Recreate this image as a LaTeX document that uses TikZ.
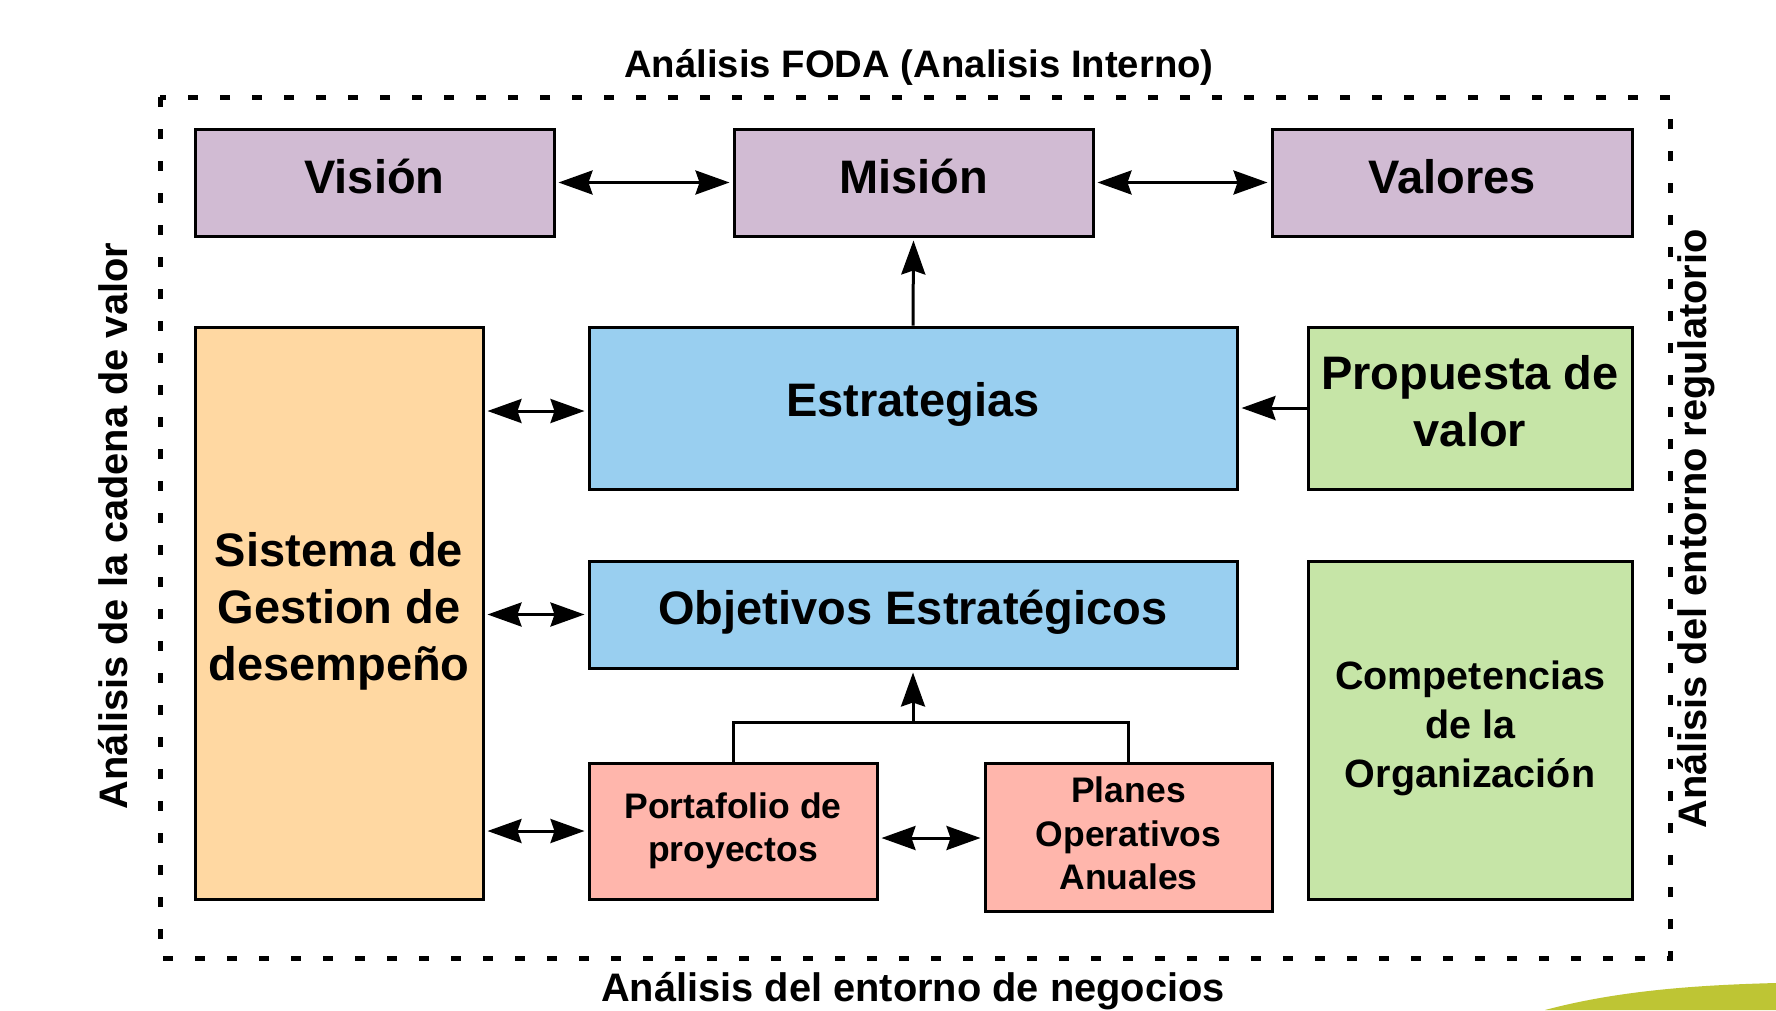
\documentclass[tikz,border=0pt]{standalone}
\usepackage{fontspec}
\setmainfont{Liberation Sans}
\usetikzlibrary{arrows.meta}
\definecolor{cpurple}{RGB}{209,187,211}
\definecolor{cblue}{RGB}{153,207,240}
\definecolor{corange}{RGB}{255,216,162}
\definecolor{cgreen}{RGB}{198,229,167}
\definecolor{cpink}{RGB}{255,182,172}
\definecolor{cswoosh}{RGB}{190,197,52}
\tikzset{
  box/.style={draw=black, line width=3pt, inner sep=0pt},
  bigtxt/.style={font=\fontsize{47}{57}\selectfont\bfseries, align=center, inner sep=0pt},
  midtxt/.style={font=\fontsize{39.5}{49}\selectfont\bfseries, align=center, inner sep=0pt},
  smalltxt/.style={font=\fontsize{35.5}{43.5}\selectfont\bfseries, align=center, inner sep=0pt},
  lbl/.style={font=\fontsize{39.8}{46}\selectfont\bfseries, inner sep=0pt},
  tip/.tip={Stealth[length=34pt,width=24pt,inset=4pt]},
  conn/.style={line width=3pt, shorten <=3pt, shorten >=3pt},
  frame/.style={line width=5pt, dash pattern=on 10pt off 22pt}
}
\begin{document}
\begin{tikzpicture}[x=1pt,y=-1pt]
\useasboundingbox (0,0) rectangle (1776,1010);
\fill[white] (0,0) rectangle (1776,1010);
\fill[cswoosh] (1545,1010) .. controls (1620,990) and (1700,985) .. (1776,983) -- (1776,1010) -- cycle;

\draw[frame] (160,97) rectangle (1670,958);

\node[lbl, font=\fontsize{38.3}{46}\selectfont\bfseries] (tt) at (919,67.5) {Análisis FODA (Analisis Interno)};
\node[lbl] (tb) at (913,991.5) {Análisis del entorno de negocios};
\node[lbl, rotate=90] (tl) at (113,526) {Análisis de la cadena de valor};
\node[lbl, rotate=90] (tr) at (1696,529) {Análisis del entorno regulatorio};

\node[box, fill=cpurple, minimum width=359pt, minimum height=107pt] (vis) at (374.5,182.5) {};
\node[box, fill=cpurple, minimum width=359pt, minimum height=107pt] (mis) at (913.5,182.5) {};
\node[box, fill=cpurple, minimum width=360pt, minimum height=107pt] (val) at (1452,182.5) {};
\node[box, fill=cblue, minimum width=648pt, minimum height=162pt] (est) at (913,408) {};
\node[box, fill=cgreen, minimum width=324pt, minimum height=162pt] (pro) at (1470,408) {};
\node[box, fill=corange, minimum width=288pt, minimum height=572pt] (sis) at (339,613) {};
\node[box, fill=cblue, minimum width=648pt, minimum height=107pt] (obj) at (913,614.5) {};
\node[box, fill=cgreen, minimum width=324pt, minimum height=338pt] (com) at (1470,730) {};
\node[box, fill=cpink, minimum width=288pt, minimum height=136pt] (por) at (733,831) {};
\node[box, fill=cpink, minimum width=287pt, minimum height=148pt] (pla) at (1128.5,837) {};

\node[bigtxt] (visT) at ([yshift=6pt]vis.center) {Visión};
\node[bigtxt] (misT) at ([yshift=6pt]mis.center) {Misión};
\node[bigtxt] (valT) at ([yshift=6pt]val.center) {Valores};
\node[bigtxt] (estT) at ([yshift=3.5pt]est.center) {Estrategias};
\node[bigtxt] (proT) at ([yshift=7pt]pro.center) {Propuesta de\\valor};
\node[bigtxt] (sisT) at ([yshift=2pt]sis.center) {Sistema de\\Gestion de\\desempeño};
\node[bigtxt] (objT) at ([yshift=2pt]obj.center) {Objetivos Estratégicos};
\node[midtxt] (comT) at ([yshift=2pt]com.center) {Competencias\\de la\\Organización};
\node[smalltxt] (porT) at (por.center) {Portafolio de\\proyectos};
\node[smalltxt] (plaT) at ([yshift=3.5pt]pla.center) {Planes\\Operativos\\Anuales};

\coordinate (jn) at (913,722);

\draw[conn, tip-tip] (vis.east) -- (mis.west);
\draw[conn, tip-tip] (mis.east) -- (val.west);
\draw[conn, -tip, shorten <=0pt] (est.north) -- (mis.south);
\draw[conn, -tip, shorten <=0pt] (pro.west) -- (est.east);
\draw[conn, tip-tip] (sis.east |- 0,411) -- (est.west |- 0,411);
\draw[conn, tip-tip] (sis.east |- obj.west) -- (obj.west);
\draw[conn, tip-tip] (sis.east |- por.west) -- (por.west);
\draw[conn, tip-tip] (por.east |- 0,838) -- (pla.west |- 0,838);
\draw[conn, -tip, shorten <=0pt] (jn) -- (obj.south);
\draw[line width=3pt] (por.north) |- (jn) -| (pla.north);
\end{tikzpicture}
\end{document}
